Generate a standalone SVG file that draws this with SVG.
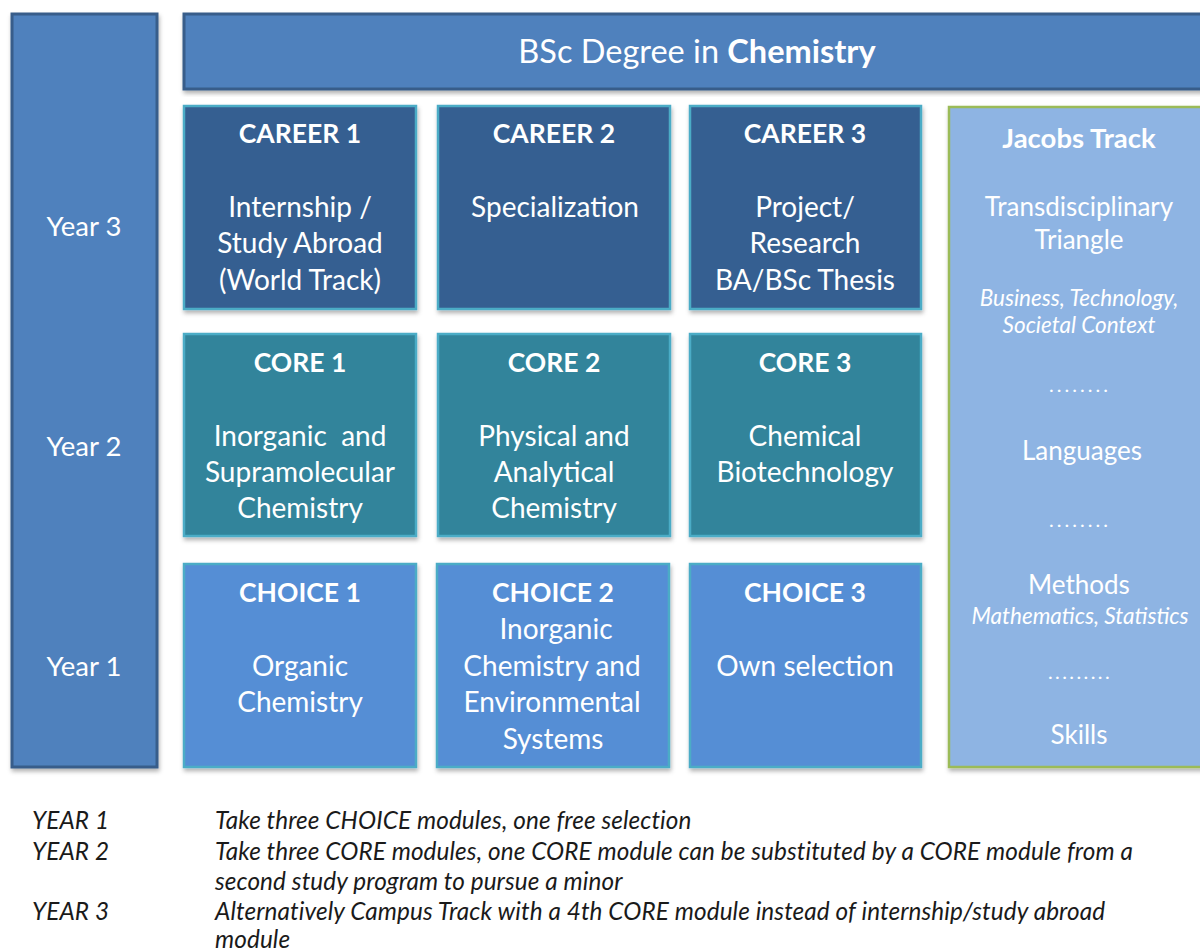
<svg xmlns="http://www.w3.org/2000/svg" width="1200" height="951" viewBox="0 0 1200 951">
<defs>
<filter id="sh" x="-5%" y="-5%" width="115%" height="115%">
<feDropShadow dx="1" dy="3" stdDeviation="2" flood-color="#000" flood-opacity="0.3"/>
</filter>
</defs>
<style>
text{font-family:Lato,"Open Sans","Liberation Sans",sans-serif;fill:#fff;text-anchor:middle}
.h{font-weight:bold;font-size:26.5px}
.b{font-size:28px}
.j{font-size:26px}
.i{font-style:italic;font-size:22.5px}
.d{font-size:20px;letter-spacing:3px}
.year{font-size:27.5px}
.career{fill:#365f91;stroke:#4bacc6;stroke-width:2.5}
.core{fill:#31849b;stroke:#4bacc6;stroke-width:2.5}
.choice{fill:#558ed5;stroke:#4bacc6;stroke-width:2.5}
.note{fill:#1a1a1a;font-style:italic;font-size:24.3px;letter-spacing:0.1px;text-anchor:start}
</style>
<rect width="1200" height="951" fill="#fff"/>
<g id="years">
<rect x="12" y="14" width="145" height="753" fill="#4f81bd" stroke="#385d8a" stroke-width="3" filter="url(#sh)"/>
<text class="year" x="84" y="236">Year 3</text>
<text class="year" x="84" y="456">Year 2</text>
<text class="year" x="84" y="676">Year 1</text>
</g>
<g id="title">
<rect x="184" y="14" width="1030" height="75" fill="#4f81bd" stroke="#385d8a" stroke-width="3" filter="url(#sh)"/>
<text x="697" y="63" style="font-size:32.5px">BSc Degree in <tspan font-weight="bold">Chemistry</tspan></text>
</g>
<g id="career1">
<rect class="career" x="184" y="106" width="232" height="203" filter="url(#sh)"/>
<text class="h" x="300" y="143">CAREER 1</text>
<text class="b" x="300" y="217">Internship /</text>
<text class="b" x="300" y="253">Study Abroad</text>
<text class="b" x="300" y="290">(World Track)</text>
</g>
<g id="career2">
<rect class="career" x="438" y="106" width="232" height="203" filter="url(#sh)"/>
<text class="h" x="554" y="143">CAREER 2</text>
<text class="b" x="555" y="217">Specialization</text>
</g>
<g id="career3">
<rect class="career" x="690" y="106" width="231" height="203" filter="url(#sh)"/>
<text class="h" x="805" y="143">CAREER 3</text>
<text class="b" x="805" y="217">Project/</text>
<text class="b" x="805" y="253">Research</text>
<text class="b" x="805" y="290">BA/BSc Thesis</text>
</g>
<g id="core1">
<rect class="core" x="184" y="334" width="232" height="202" filter="url(#sh)"/>
<text class="h" x="300" y="372">CORE 1</text>
<text class="b" x="300" y="446" style="white-space:pre">Inorganic  and</text>
<text class="b" x="300" y="482">Supramolecular</text>
<text class="b" x="300" y="518">Chemistry</text>
</g>
<g id="core2">
<rect class="core" x="438" y="334" width="232" height="202" filter="url(#sh)"/>
<text class="h" x="554" y="372">CORE 2</text>
<text class="b" x="554" y="446">Physical and</text>
<text class="b" x="554" y="482">Analytical</text>
<text class="b" x="554" y="518">Chemistry</text>
</g>
<g id="core3">
<rect class="core" x="690" y="334" width="231" height="202" filter="url(#sh)"/>
<text class="h" x="805" y="372">CORE 3</text>
<text class="b" x="805" y="446">Chemical</text>
<text class="b" x="805" y="482">Biotechnology</text>
</g>
<g id="choice1">
<rect class="choice" x="184" y="564" width="232" height="203" filter="url(#sh)"/>
<text class="h" x="300" y="602">CHOICE 1</text>
<text class="b" x="300" y="676">Organic</text>
<text class="b" x="300" y="712">Chemistry</text>
</g>
<g id="choice2">
<rect class="choice" x="437" y="564" width="232" height="203" filter="url(#sh)"/>
<text class="h" x="553" y="602">CHOICE 2</text>
<text class="b" x="556" y="639">Inorganic</text>
<text class="b" x="552" y="676">Chemistry and</text>
<text class="b" x="552" y="712">Environmental</text>
<text class="b" x="553" y="749">Systems</text>
</g>
<g id="choice3">
<rect class="choice" x="690" y="564" width="231" height="203" filter="url(#sh)"/>
<text class="h" x="805" y="602">CHOICE 3</text>
<text class="b" x="805" y="676">Own selection</text>
</g>
<g id="jacobs">
<rect x="949" y="107" width="270" height="660" fill="#8eb4e3" stroke="#9bbb59" stroke-width="2.5" filter="url(#sh)"/>
<text class="h" x="1079" y="148" style="font-size:27.5px">Jacobs Track</text>
<text class="j" x="1079" y="216">Transdisciplinary</text>
<text class="j" x="1079" y="249">Triangle</text>
<text class="i" x="1079" y="306">Business, Technology,</text>
<text class="i" x="1079" y="333">Societal Context</text>
<text class="d" x="1080" y="392">........</text>
<text class="j" x="1082" y="460">Languages</text>
<text class="d" x="1080" y="527">........</text>
<text class="j" x="1079" y="594">Methods</text>
<text class="i" x="1080" y="624">Mathematics, Statistics</text>
<text class="d" x="1080" y="679" style="letter-spacing:2.4px">.........</text>
<text class="j" x="1079" y="744">Skills</text>
</g>
<g id="notes">
<text class="note" x="32" y="829">YEAR 1</text>
<text class="note" x="215" y="829">Take three CHOICE modules, one free selection</text>
<text class="note" x="32" y="860">YEAR 2</text>
<text class="note" x="215" y="860">Take three CORE modules, one CORE module can be substituted by a CORE module from a</text>
<text class="note" x="215" y="890">second study program to pursue a minor</text>
<text class="note" x="32" y="920">YEAR 3</text>
<text class="note" x="215" y="920">Alternatively Campus Track with a 4th CORE module instead of internship/study abroad</text>
<text class="note" x="215" y="948">module</text>
</g>
</svg>
